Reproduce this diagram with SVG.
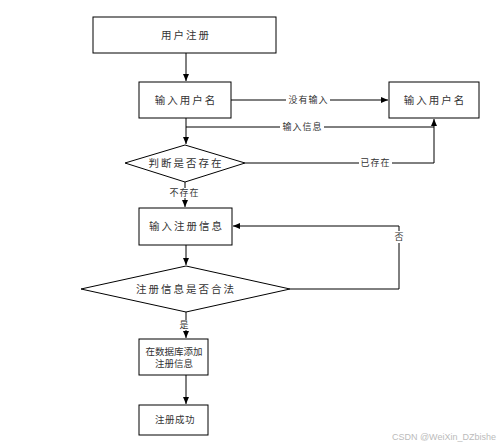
<svg xmlns="http://www.w3.org/2000/svg" width="502" height="448" viewBox="0 0 502 448">
<style>
.n{fill:#fff;stroke:#000;stroke-width:1}
.t{font-family:"Liberation Serif","Noto Sans CJK SC",serif;font-size:10.5px;letter-spacing:2px;fill:#333;text-anchor:middle;dominant-baseline:central}
.s{font-family:"Liberation Serif","Noto Sans CJK SC",serif;font-size:9.5px;fill:#333;text-anchor:middle;dominant-baseline:central}
.l{font-family:"Liberation Serif","Noto Sans CJK SC",serif;font-size:9px;letter-spacing:1px;fill:#333;text-anchor:middle;dominant-baseline:central}
.c{fill:none;stroke:#000;stroke-width:1}
.bg{fill:#fff}
</style>
<defs>
<marker id="a" markerWidth="8" markerHeight="8" refX="7" refY="4" orient="auto" markerUnits="userSpaceOnUse">
<path d="M0,1 L7,4 L0,7 Z" fill="#000"/>
</marker>
</defs>
<rect width="502" height="448" fill="#fff"/>
<g id="connectors">
<path class="c" d="M186,53 V81" marker-end="url(#a)"/>
<path class="c" d="M231,100 H388" marker-end="url(#a)"/>
<path class="c" d="M186,118 V144" marker-end="url(#a)"/>
<path class="c" d="M186,127 H434 V119" marker-end="url(#a)"/>
<path class="c" d="M245,163 H434 V127"/>
<path class="c" d="M185,182 V207" marker-end="url(#a)"/>
<path class="c" d="M186,245 V265" marker-end="url(#a)"/>
<path class="c" d="M290,289 H399 V226 H233" marker-end="url(#a)"/>
<path class="c" d="M186,312 V338" marker-end="url(#a)"/>
<path class="c" d="M186,375 V404" marker-end="url(#a)"/>
<rect class="bg" x="286" y="95" width="44" height="10"/>
<text class="l" x="308.5" y="100">没有输入</text>
<rect class="bg" x="280" y="122" width="44" height="10"/>
<text class="l" x="302.5" y="127">输入信息</text>
<rect class="bg" x="359" y="158" width="33" height="10"/>
<text class="l" x="375.5" y="163">已存在</text>
<rect class="bg" x="167" y="188" width="34" height="10"/>
<text class="l" x="184.5" y="193">不存在</text>
<rect class="bg" x="394" y="231" width="10" height="12"/>
<text class="l" x="399.5" y="237">否</text>
<rect class="bg" x="178" y="320" width="12" height="10"/>
<text class="l" x="184.5" y="325">是</text>
</g>
<g id="n1"><rect class="n" x="93" y="17" width="183" height="36"/><text class="t" x="186" y="35">用户注册</text></g>
<g id="n2"><rect class="n" x="139" y="82" width="92" height="36"/><text class="t" x="186" y="100">输入用户名</text></g>
<g id="n3"><rect class="n" x="389" y="82" width="90" height="36"/><text class="t" x="435" y="100">输入用户名</text></g>
<g id="n4"><path class="n" d="M185,145 L245,163 L185,182 L125,163 Z"/><text class="t" x="186" y="163">判断是否存在</text></g>
<g id="n5"><rect class="n" x="139" y="208" width="93" height="37"/><text class="t" x="186.5" y="226">输入注册信息</text></g>
<g id="n6"><path class="n" d="M186,266 L290,289 L186,312 L81,289 Z"/><text class="t" x="186" y="289">注册信息是否合法</text></g>
<g id="n7"><rect class="n" x="139" y="339" width="69" height="36"/><text class="s" x="174" y="352">在数据库添加</text><text class="s" x="174" y="364">注册信息</text></g>
<g id="n8"><rect class="n" x="139" y="405" width="69" height="30"/><text class="s" x="175" y="420" letter-spacing="0.5">注册成功</text></g>
<text x="496" y="440" font-family="Liberation Sans,sans-serif" font-size="9" fill="#bbb" text-anchor="end">CSDN @WeiXin_DZbishe</text>
</svg>
